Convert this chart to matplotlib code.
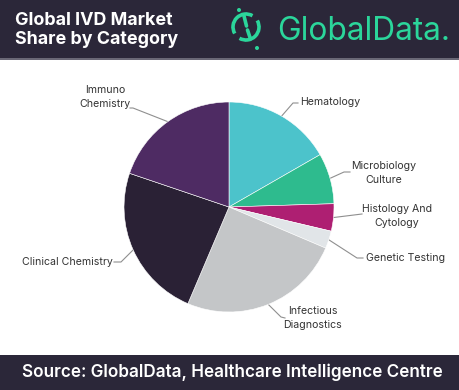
import numpy as np
import matplotlib.pyplot as plt
from matplotlib.patches import Rectangle, Arc, Circle

# market share by category (%), clockwise from 12 o'clock
categories = ["Hematology", "Microbiology\nCulture", "Histology And\nCytology",
              "Genetic Testing", "Infectious\nDiagnostics", "Clinical Chemistry",
              "Immuno\nChemistry"]
shares = [16.7, 7.8, 4.2, 2.7, 25.0, 23.8, 19.8]
colors = ["#4cc3cb", "#2ebb8e", "#ae1f72", "#e1e5e8", "#c4c6c8", "#2a2135", "#4e2b63"]

W, H = 460, 390
DARK = "#2b2739"
GREEN = "#2bd69b"
plt.rcParams["font.family"] = ["Inter", "DejaVu Sans"]

fig = plt.figure(figsize=(W / 100, H / 100), dpi=100)
fig.patch.set_facecolor("white")

# background axes in pixel coordinates
bg = fig.add_axes([0, 0, 1, 1])
bg.set_xlim(0, W)
bg.set_ylim(H, 0)
bg.axis("off")
bg.add_patch(Rectangle((0, 0), W, 58, color=DARK, lw=0))
bg.add_patch(Rectangle((0, 58), W, 2, color="#6a6876", lw=0))
bg.add_patch(Rectangle((0, 355), W, 35, color=DARK, lw=0))

bg.text(15, 30, "Global IVD Market\nShare by Category", color="white", fontsize=12.9,
        fontweight="bold", va="center", ha="left", linespacing=1.2)
bg.text(W / 2 + 2, 372, "Source: GlobalData, Healthcare Intelligence Centre", color="white",
        fontsize=12.3, fontweight="semibold", va="center", ha="center")

# logo
cx, cy, r = 246, 27, 13
bg.add_patch(Arc((cx, cy), 2 * r, 2 * r, theta1=150, theta2=300, color=GREEN, lw=2.6))
bg.add_patch(Arc((cx, cy), 2 * r, 2 * r, theta1=-30, theta2=120, color=GREEN, lw=2.6))
bg.add_patch(Circle((239, 10), 2.0, color=GREEN, lw=0))
bg.add_patch(Circle((257, 48), 2.0, color=GREEN, lw=0))
bg.plot([244, 246.5], [16, 26], color=GREEN, lw=2.6, solid_capstyle="round")
bg.plot([247.5, 250.5], [30, 39], color=GREEN, lw=2.6, solid_capstyle="round")
bg.text(277, 31, "GlobalData.", color=GREEN, fontsize=22.8, va="center", ha="left")

# pie
PCX, PCY, PR = 229, 207, 105
ax = fig.add_axes([(PCX - PR) / W, (H - PCY - PR) / H, 2 * PR / W, 2 * PR / H])
ax.set_facecolor("none")
wedges, _ = ax.pie(shares, colors=colors, startangle=90, counterclock=False, radius=1,
                   wedgeprops=dict(edgecolor="white", linewidth=0.4))
ax.set_xlim(-1, 1)
ax.set_ylim(-1, 1)
ax.axis("off")


def p2d(px, py):
    return (px - PCX) / PR, (PCY - py) / PR


# leader elbows / text anchors in pixels (layout)
layout = [
    [(293, 103), (298, 103)], [(344, 172), (350, 172)], [(362, 214)],
    [(357, 258), (363, 258)], [(281, 317), (285, 318)], [(121, 262), (114, 262)],
    [(133, 108), (130, 108)],
]
text_pos = [(300, 102, "left"), (384, 173, "center"), (397, 216, "center"),
            (366, 258, "left"), (313, 318, "center"), (113, 262, "right"),
            (105, 97, "center")]

for w, lab, pts, (tx, ty, ha) in zip(wedges, categories, layout, text_pos):
    mid = np.deg2rad((w.theta1 + w.theta2) / 2)
    xs = [np.cos(mid)] + [p2d(*p)[0] for p in pts]
    ys = [np.sin(mid)] + [p2d(*p)[1] for p in pts]
    ax.plot(xs, ys, color="#8f8f8f", lw=0.8, clip_on=False, zorder=0)
    x, y = p2d(tx, ty)
    ax.text(x, y, lab, ha=ha, va="center", multialignment="center", fontsize=7.6,
            color="#333333", clip_on=False, linespacing=1.4)

fig.savefig("out.png", dpi=100)
